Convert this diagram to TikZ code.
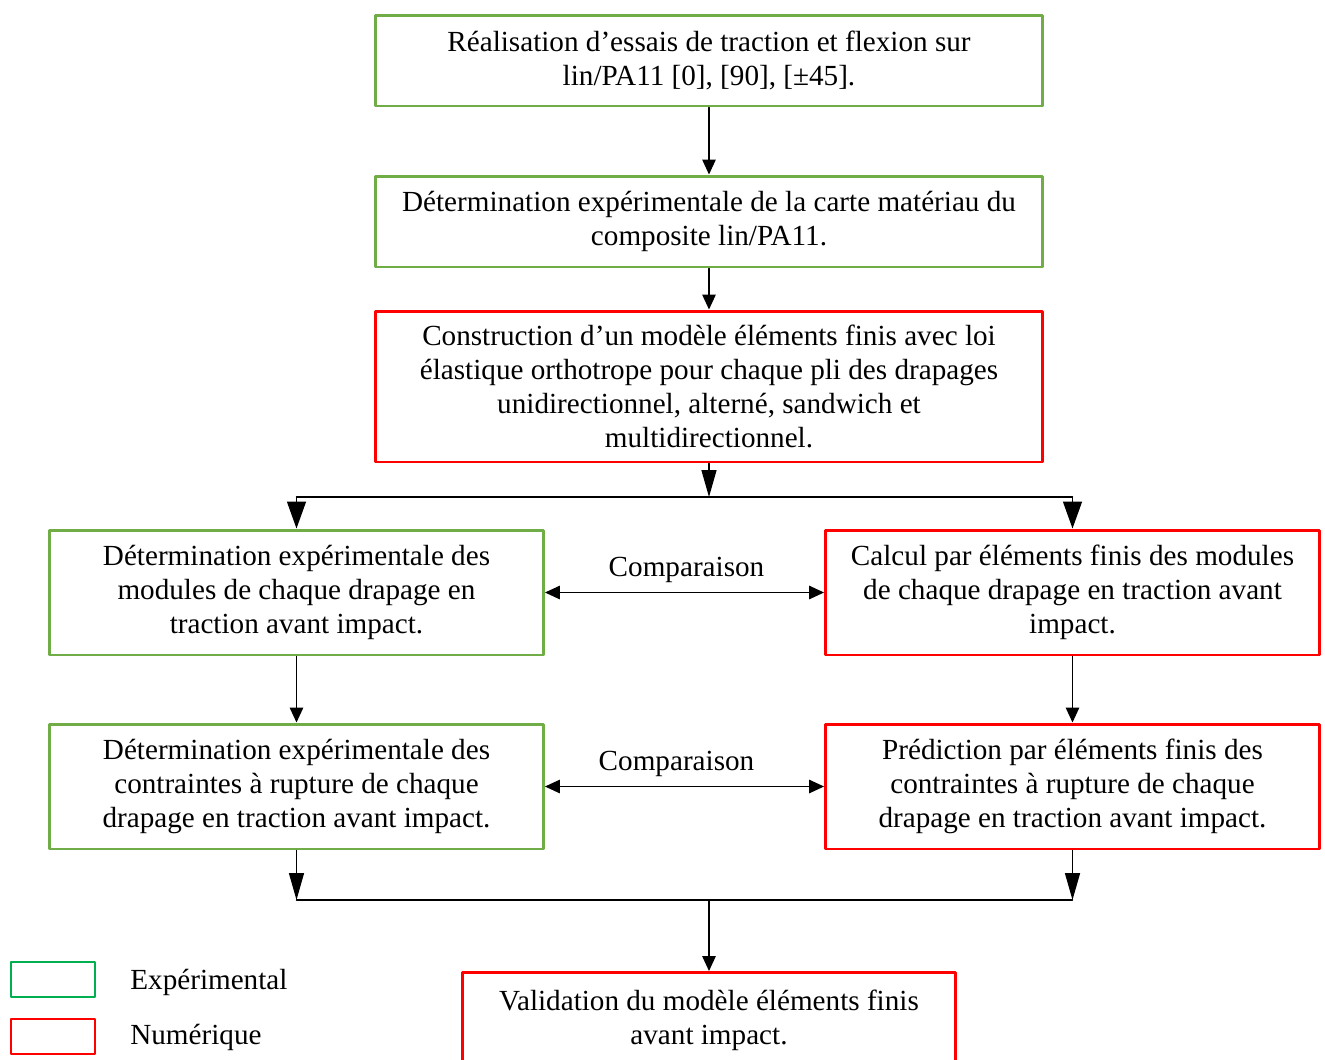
\documentclass[tikz,border=0pt]{standalone}
\usepackage{fontspec}
\setmainfont{Liberation Serif}
\usetikzlibrary{arrows.meta}
\definecolor{expgreen}{HTML}{70AD47}
\definecolor{leggreen}{HTML}{00B050}
\definecolor{numred}{HTML}{FF0000}
\tikzset{
  txt/.style={font=\fontsize{16.6}{19.35}\selectfont, inner sep=0pt},
  expbox/.style={txt, draw=expgreen, line width=1.7pt, align=center, execute at begin node={\rule{0pt}{19pt}}},
  numbox/.style={expbox, draw=numred},
  wide/.style={minimum width=13.36cm},
  half/.style={minimum width=9.88cm, minimum height=2.5cm},
  arr/.style={-{Triangle[length=0.3cm,width=0.27cm]}, line width=0.8pt},
  dblarr/.style={{Triangle[length=0.3cm,width=0.27cm]}-{Triangle[length=0.3cm,width=0.27cm]}, line width=0.8pt},
  longarr/.style={-{Triangle[length=0.54cm,width=0.3cm]}, line width=0.8pt},
  widearr/.style={-{Triangle[length=0.54cm,width=0.38cm]}, line width=0.8pt}
}
\begin{document}
\begin{tikzpicture}[x=0.02cm, y=-0.02cm, line cap=round, line join=round]
  \useasboundingbox (0,0) rectangle (1325,1059);
  % main column
  \node[expbox, wide, minimum height=1.82cm] (essais) at (709,60.5)
    {R\'ealisation d’essais de traction et flexion sur\\ lin/PA11 [0], [90], [\textpm45].};
  \node[expbox, wide, minimum height=1.82cm] (carte) at (709,221.5)
    {D\'etermination exp\'erimentale de la carte mat\'eriau du\\ composite lin/PA11.};
  \node[numbox, wide, minimum height=3.02cm] (modele) at (709,386.5)
    {Construction d’un mod\`ele \'el\'ements finis avec loi\\ \'elastique orthotrope pour chaque pli des drapages\\ unidirectionnel, altern\'e, sandwich et\\ multidirectionnel.};
  \draw[arr] (essais) -- (carte);
  \draw[arr] (carte) -- (modele);
  \coordinate (split) at (709,497);
  \draw[longarr] (modele.south) -- (split);
  % modules
  \node[expbox, half] (modexp) at (296.5,592.5)
    {D\'etermination exp\'erimentale des\\ modules de chaque drapage en\\ traction avant impact.};
  \node[numbox, half] (modnum) at (1072.5,592.5)
    {Calcul par \'el\'ements finis des modules\\ de chaque drapage en traction avant\\ impact.};
  \draw[line width=0.8pt] (modexp.north |- split) -- (modnum.north |- split);
  \draw[widearr] (modexp.north |- split) -- (modexp.north);
  \draw[widearr] (modnum.north |- split) -- (modnum.north);
  \draw[dblarr] (modexp.east) -- node[txt, above=0.18cm, xshift=0.04cm] {Comparaison} (modnum.west);
  % contraintes
  \node[expbox, half] (ruptexp) at (296.5,786.5)
    {D\'etermination exp\'erimentale des\\ contraintes \`a rupture de chaque\\ drapage en traction avant impact.};
  \node[numbox, half] (ruptnum) at (1072.5,786.5)
    {Pr\'ediction par \'el\'ements finis des\\ contraintes \`a rupture de chaque\\ drapage en traction avant impact.};
  \draw[arr] (modexp) -- (ruptexp);
  \draw[arr] (modnum) -- (ruptnum);
  \draw[dblarr] (ruptexp.east) -- node[txt, above=0.18cm, xshift=-0.16cm] {Comparaison} (ruptnum.west);
  % validation
  \coordinate (join) at (709,900);
  \node[numbox, minimum width=9.88cm, minimum height=1.9cm] (valid) at (709,1020)
    {Validation du mod\`ele \'el\'ements finis\\ avant impact.};
  \draw[longarr] (ruptexp.south) -- (ruptexp.south |- join);
  \draw[longarr] (ruptnum.south) -- (ruptnum.south |- join);
  \draw[line width=0.8pt] (ruptexp.south |- join) -- (ruptnum.south |- join);
  \draw[arr] (join) -- (valid.north);
  % legend
  \node[draw=leggreen, line width=1.5pt, minimum width=1.68cm, minimum height=0.7cm] (legexp) at (53,979.5) {};
  \node[draw=numred, line width=1.5pt, minimum width=1.68cm, minimum height=0.7cm] (legnum) at (53,1036.5) {};
  \node[txt, anchor=west] (legexptxt) at (130,982) {Exp\'erimental};
  \node[txt, anchor=west] (legnumtxt) at (130,1037) {Num\'erique};
\end{tikzpicture}
\end{document}
